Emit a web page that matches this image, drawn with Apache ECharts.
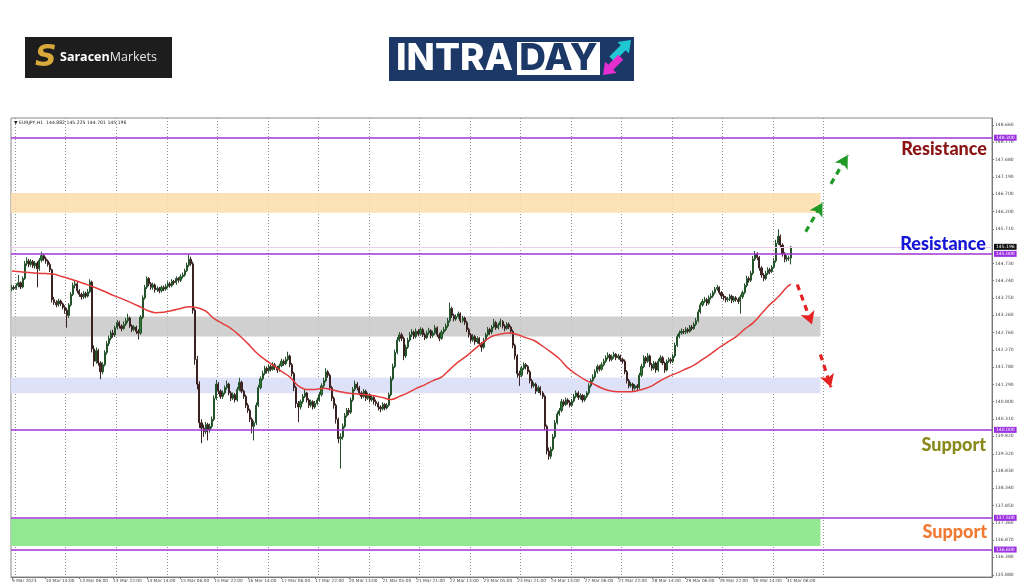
<!DOCTYPE html>
<html><head><meta charset="utf-8">
<script src="https://cdn.jsdelivr.net/npm/echarts@6/dist/echarts.min.js"></script>
<style>html,body{margin:0;padding:0;background:#fff}#c{width:1024px;height:587px}</style>
</head><body><div id="c"></div>
<script>
// ---------- DATA ----------
const xLabels = ["9 Mar 2023","10 Mar 14:00","13 Mar 06:00","13 Mar 22:00","14 Mar 14:00","15 Mar 06:00","15 Mar 22:00","16 Mar 14:00","17 Mar 06:00","17 Mar 22:00","20 Mar 13:00","21 Mar 05:00","21 Mar 21:00","22 Mar 13:00","23 Mar 05:00","23 Mar 21:00","24 Mar 13:00","27 Mar 06:00","27 Mar 22:00","28 Mar 14:00","29 Mar 06:00","29 Mar 22:00","30 Mar 14:00","31 Mar 06:00"];
const totalSlots = 466; // hourly slots on the time axis (bars + empty right margin)

const opens = [
144.00,144.05,144.02,144.10,144.18,144.06,144.30,144.72,144.80,144.70,
144.78,144.66,144.74,144.58,144.82,144.95,144.86,144.80,144.70,144.55,
143.70,143.62,143.55,143.66,143.58,143.48,143.40,143.25,143.55,143.85,
144.10,144.15,143.95,143.85,143.78,143.88,143.80,143.92,144.20,142.30,
141.95,142.25,141.90,141.65,141.85,142.20,142.45,142.60,142.75,142.70,
142.90,143.05,142.95,142.88,143.00,143.10,143.18,142.95,142.85,142.92,
142.80,142.75,143.20,143.75,144.05,144.30,144.15,144.05,144.12,143.98,
144.02,143.95,144.05,144.00,144.08,144.15,144.10,144.22,144.18,144.30,
144.25,144.35,144.40,144.52,144.68,144.85,144.72,143.40,142.00,141.30,
140.20,140.05,139.95,140.15,140.00,140.10,140.30,140.90,141.30,141.10,
140.95,141.05,141.20,141.30,141.05,140.90,141.00,140.85,141.15,141.35,
141.10,140.95,140.70,140.55,140.30,140.10,140.20,140.70,141.20,141.45,
141.60,141.75,141.68,141.80,141.72,141.85,141.78,141.70,141.82,141.95,
141.88,142.00,142.10,141.85,141.60,141.20,140.75,140.65,140.80,140.95,
141.05,140.85,140.70,140.80,140.65,140.75,140.85,141.00,141.25,141.40,
141.65,141.55,141.20,140.90,140.70,140.30,139.75,139.80,140.10,140.40,
140.55,140.50,140.85,141.15,141.30,141.20,141.05,140.95,141.10,140.90,
141.00,140.85,140.92,140.80,140.75,140.65,140.60,140.72,140.62,140.70,
141.00,141.45,141.80,142.20,142.55,142.70,142.60,142.10,142.35,142.55,
142.70,142.78,142.65,142.80,142.72,142.85,142.70,142.62,142.75,142.82,
142.68,142.75,142.90,142.70,142.60,142.78,142.85,142.95,143.10,143.45,
143.25,143.15,143.22,143.30,143.10,143.18,143.05,142.85,142.70,142.55,
142.65,142.50,142.60,142.45,142.35,142.55,142.70,142.85,142.78,142.92,
143.05,142.90,142.98,143.08,142.95,142.88,143.00,142.92,142.80,142.40,
142.10,141.60,141.55,141.75,141.85,141.80,141.65,141.40,141.25,141.30,
141.10,141.20,141.05,140.95,140.10,139.40,139.25,139.45,139.80,140.20,
140.45,140.55,140.80,140.72,140.85,140.78,140.70,140.82,140.95,141.05,
140.92,140.98,140.85,140.95,141.05,141.25,141.40,141.50,141.65,141.80,
141.72,141.85,141.95,142.05,142.12,142.00,142.08,142.15,142.05,142.10,
142.00,141.95,141.65,141.40,141.25,141.30,141.18,141.25,141.20,141.55,
141.80,142.05,141.95,142.10,141.85,141.75,141.90,141.70,141.95,142.05,
141.90,141.70,141.95,142.00,141.95,142.10,142.40,142.65,142.75,142.80,
142.78,142.85,142.80,142.92,142.88,143.00,143.10,143.35,143.55,143.65,
143.70,143.60,143.75,143.80,143.90,144.00,144.05,143.90,143.80,143.75,
143.70,143.72,143.80,143.68,143.75,143.70,143.65,143.78,143.90,144.10,
144.30,144.25,144.45,144.85,145.00,144.90,144.60,144.40,144.30,144.45,
144.55,144.50,144.62,144.80,145.30,145.50,145.25,145.00,144.85,144.88,
144.882];
const closes = [
144.05,144.02,144.10,144.18,144.06,144.30,144.72,144.80,144.70,144.78,
144.66,144.74,144.58,144.82,144.95,144.86,144.80,144.70,144.55,143.70,
143.62,143.55,143.66,143.58,143.48,143.40,143.25,143.55,143.85,144.10,
144.15,143.95,143.85,143.78,143.88,143.80,143.92,144.20,142.30,141.95,
142.25,141.90,141.65,141.85,142.20,142.45,142.60,142.75,142.70,142.90,
143.05,142.95,142.88,143.00,143.10,143.18,142.95,142.85,142.92,142.80,
142.75,143.20,143.75,144.05,144.30,144.15,144.05,144.12,143.98,144.02,
143.95,144.05,144.00,144.08,144.15,144.10,144.22,144.18,144.30,144.25,
144.35,144.40,144.52,144.68,144.85,144.72,143.40,142.00,141.30,140.20,
140.05,139.95,140.15,140.00,140.10,140.30,140.90,141.30,141.10,140.95,
141.05,141.20,141.30,141.05,140.90,141.00,140.85,141.15,141.35,141.10,
140.95,140.70,140.55,140.30,140.10,140.20,140.70,141.20,141.45,141.60,
141.75,141.68,141.80,141.72,141.85,141.78,141.70,141.82,141.95,141.88,
142.00,142.10,141.85,141.60,141.20,140.75,140.65,140.80,140.95,141.05,
140.85,140.70,140.80,140.65,140.75,140.85,141.00,141.25,141.40,141.65,
141.55,141.20,140.90,140.70,140.30,139.75,139.80,140.10,140.40,140.55,
140.50,140.85,141.15,141.30,141.20,141.05,140.95,141.10,140.90,141.00,
140.85,140.92,140.80,140.75,140.65,140.60,140.72,140.62,140.70,141.00,
141.45,141.80,142.20,142.55,142.70,142.60,142.10,142.35,142.55,142.70,
142.78,142.65,142.80,142.72,142.85,142.70,142.62,142.75,142.82,142.68,
142.75,142.90,142.70,142.60,142.78,142.85,142.95,143.10,143.45,143.25,
143.15,143.22,143.30,143.10,143.18,143.05,142.85,142.70,142.55,142.65,
142.50,142.60,142.45,142.35,142.55,142.70,142.85,142.78,142.92,143.05,
142.90,142.98,143.08,142.95,142.88,143.00,142.92,142.80,142.40,142.10,
141.60,141.55,141.75,141.85,141.80,141.65,141.40,141.25,141.30,141.10,
141.20,141.05,140.95,140.10,139.40,139.25,139.45,139.80,140.20,140.45,
140.55,140.80,140.72,140.85,140.78,140.70,140.82,140.95,141.05,140.92,
140.98,140.85,140.95,141.05,141.25,141.40,141.50,141.65,141.80,141.72,
141.85,141.95,142.05,142.12,142.00,142.08,142.15,142.05,142.10,142.00,
141.95,141.65,141.40,141.25,141.30,141.18,141.25,141.20,141.55,141.80,
142.05,141.95,142.10,141.85,141.75,141.90,141.70,141.95,142.05,141.90,
141.70,141.95,142.00,141.95,142.10,142.40,142.65,142.75,142.80,142.78,
142.85,142.80,142.92,142.88,143.00,143.10,143.35,143.55,143.65,143.70,
143.60,143.75,143.80,143.90,144.00,144.05,143.90,143.80,143.75,143.70,
143.72,143.80,143.68,143.75,143.70,143.65,143.78,143.90,144.10,144.30,
144.25,144.45,144.85,145.00,144.90,144.60,144.40,144.30,144.45,144.55,
144.50,144.62,144.80,145.30,145.50,145.25,145.00,144.85,144.88,144.882,
145.196];
const highs = [
144.12,144.10,144.16,144.40,144.22,144.36,144.80,144.90,144.86,144.85,
144.83,144.80,144.79,144.88,145.06,145.00,144.92,144.84,144.76,144.58,
143.78,143.68,143.72,143.70,143.62,143.54,143.46,143.60,143.92,144.18,
144.24,144.20,144.00,143.90,143.94,143.93,144.00,144.28,144.24,142.40,
142.34,142.30,141.95,141.92,142.26,142.52,142.68,142.82,142.84,142.96,
143.12,143.10,143.00,143.08,143.18,143.30,143.22,143.00,142.98,142.96,
142.86,143.26,143.82,144.12,144.36,144.34,144.20,144.18,144.16,144.08,
144.06,144.10,144.10,144.14,144.22,144.20,144.28,144.26,144.36,144.34,
144.42,144.47,144.58,144.75,144.98,144.92,144.78,143.45,142.10,141.38,
140.30,140.15,140.22,140.20,140.18,140.38,140.98,141.42,141.36,141.15,
141.12,141.26,141.40,141.34,141.10,141.06,141.05,141.22,141.48,141.40,
141.14,141.00,140.76,140.60,140.35,140.26,140.78,141.28,141.52,141.68,
141.82,141.80,141.86,141.85,141.92,141.90,141.82,141.88,142.02,142.00,
142.08,142.22,142.14,141.90,141.65,141.25,140.82,140.86,141.02,141.14,
141.08,140.90,140.86,140.84,140.82,140.92,141.08,141.32,141.48,141.75,
141.70,141.60,141.25,140.95,140.75,140.35,139.90,140.18,140.48,140.62,
140.62,140.92,141.22,141.40,141.36,141.25,141.10,141.16,141.14,141.06,
141.04,140.98,140.96,140.86,140.80,140.70,140.78,140.76,140.76,141.06,
141.52,141.88,142.28,142.64,142.78,142.76,142.65,142.42,142.62,142.78,
142.86,142.82,142.88,142.86,142.92,142.90,142.76,142.82,142.90,142.86,
142.82,142.98,142.94,142.76,142.84,142.92,143.02,143.18,143.62,143.50,
143.30,143.28,143.36,143.34,143.24,143.22,143.10,142.90,142.75,142.72,
142.70,142.66,142.64,142.50,142.62,142.76,142.92,142.90,142.98,143.15,
143.10,143.04,143.16,143.12,143.00,143.06,143.05,142.96,142.85,142.45,
142.15,141.68,141.82,141.92,141.90,141.84,141.70,141.45,141.36,141.34,
141.26,141.24,141.10,141.00,140.15,139.50,139.52,139.88,140.28,140.52,
140.62,140.88,140.86,140.92,140.90,140.84,140.88,141.02,141.12,141.10,
141.04,141.02,141.00,141.10,141.32,141.46,141.58,141.72,141.86,141.84,
141.92,142.02,142.12,142.20,142.16,142.14,142.22,142.18,142.16,142.14,
142.05,142.00,141.70,141.45,141.36,141.34,141.30,141.30,141.62,141.88,
142.12,142.10,142.18,142.14,141.90,141.96,141.94,142.02,142.12,142.10,
141.94,142.00,142.06,142.05,142.16,142.48,142.72,142.82,142.88,142.86,
142.92,142.90,142.98,142.98,143.06,143.18,143.42,143.62,143.72,143.78,
143.75,143.82,143.88,143.96,144.06,144.12,144.08,143.94,143.86,143.80,
143.78,143.86,143.84,143.80,143.80,143.76,143.84,143.96,144.16,144.38,
144.36,144.52,144.94,145.08,145.05,144.94,144.65,144.45,144.52,144.62,
144.60,144.68,144.88,145.40,145.70,145.55,145.30,145.05,144.96,144.95,
145.225];
const lows = [
143.94,143.97,143.98,144.05,144.00,144.02,144.26,144.66,144.62,144.64,
144.60,144.58,144.05,144.52,144.76,144.80,144.72,144.64,144.48,143.62,
143.55,143.48,143.50,143.52,143.42,143.30,142.90,143.18,143.50,143.80,
144.02,143.88,143.78,143.70,143.72,143.74,143.76,143.88,142.20,141.80,
141.88,141.82,141.44,141.58,141.80,142.14,142.38,142.54,142.62,142.64,
142.85,142.88,142.80,142.84,142.95,143.04,142.90,142.78,142.80,142.72,
142.57,142.70,143.15,143.70,144.00,144.08,143.98,143.98,143.90,143.92,
143.88,143.90,143.94,143.95,144.02,144.04,144.05,144.12,144.12,144.18,
144.20,144.30,144.35,144.48,144.62,144.66,143.30,141.85,141.15,140.05,
139.62,139.80,139.88,139.70,139.92,140.04,140.25,140.85,141.02,140.88,
140.88,141.00,141.14,140.98,140.82,140.85,140.78,140.80,141.10,141.04,
140.88,140.62,140.48,140.22,139.90,139.70,140.14,140.65,141.15,141.40,
141.55,141.60,141.62,141.66,141.68,141.70,141.62,141.65,141.78,141.82,
141.84,141.95,141.78,141.52,141.10,140.62,140.22,140.58,140.74,140.90,
140.78,140.62,140.64,140.58,140.60,140.70,140.80,140.95,141.20,141.35,
141.48,141.12,140.82,140.60,140.18,139.62,138.90,139.72,140.05,140.35,
140.42,140.45,140.80,141.10,141.12,140.98,140.88,140.90,140.82,140.85,
140.78,140.80,140.72,140.68,140.55,140.50,140.55,140.56,140.58,140.66,
140.95,141.40,141.75,142.15,142.50,142.52,141.98,142.04,142.30,142.50,
142.64,142.58,142.60,142.66,142.68,142.64,142.55,142.58,142.70,142.60,
142.62,142.70,142.64,142.52,142.56,142.72,142.80,142.90,143.05,143.18,
143.08,143.10,143.16,143.04,143.05,142.98,142.78,142.62,142.48,142.50,
142.42,142.45,142.38,142.22,142.30,142.50,142.65,142.70,142.72,142.88,
142.84,142.85,142.92,142.88,142.80,142.84,142.86,142.72,142.32,142.00,
141.48,141.25,141.50,141.70,141.72,141.58,141.32,141.18,141.20,141.02,
141.05,140.98,140.88,140.00,139.30,139.15,139.18,139.40,139.75,140.15,
140.40,140.50,140.66,140.68,140.72,140.64,140.66,140.78,140.90,140.85,
140.86,140.78,140.80,140.90,141.00,141.20,141.35,141.45,141.60,141.66,
141.68,141.80,141.90,142.00,141.94,141.95,142.02,141.98,142.00,141.94,
141.88,141.58,141.32,141.18,141.20,141.10,141.12,141.12,141.15,141.50,
141.75,141.88,141.90,141.78,141.68,141.70,141.62,141.65,141.90,141.84,
141.62,141.66,141.90,141.88,141.90,142.05,142.35,142.60,142.70,142.72,
142.72,142.74,142.76,142.82,142.84,142.95,143.05,143.30,143.50,143.60,
143.52,143.55,143.70,143.75,143.85,143.95,143.84,143.72,143.68,143.62,
143.64,143.66,143.60,143.62,143.64,143.58,143.30,143.72,143.85,144.05,
144.18,144.20,144.40,144.80,144.82,144.52,144.32,144.22,144.25,144.40,
144.42,144.45,144.58,144.75,145.25,145.18,144.92,144.76,144.78,144.80,
144.701];

// moving average read every 4th bar (bar 0,4,...,368) and at the last bar (370)
const maValues = [
144.51,144.49,144.47,144.45,144.44,144.42,144.35,144.28,144.20,144.12,
144.03,143.93,143.82,143.73,143.63,143.52,143.40,143.33,143.34,143.39,
143.45,143.50,143.47,143.37,143.16,143.02,142.88,142.68,142.45,142.20,
142.00,141.84,141.66,141.50,141.25,141.15,141.15,141.18,141.14,141.08,
141.04,141.02,141.00,140.97,140.92,140.86,140.95,141.05,141.18,141.28,
141.40,141.50,141.72,141.93,142.10,142.31,142.50,142.66,142.72,142.75,
142.71,142.62,142.54,142.38,142.21,142.02,141.76,141.58,141.43,141.31,
141.19,141.11,141.08,141.08,141.10,141.16,141.25,141.40,141.52,141.62,
141.73,141.84,142.00,142.16,142.34,142.50,142.65,142.86,143.04,143.30,
143.56,143.78,144.05];
const maLastBar = 370, maLastValue = 144.14;

const yTicks = [135.88,136.38,136.87,137.36,137.85,138.34,138.83,139.32,139.82,140.31,140.80,141.29,141.78,142.27,142.76,143.26,143.75,144.24,144.73,145.71,146.20,146.70,147.19,147.68,148.17,148.66];
const levelPrices = [148.300,145.000,140.000,137.500,136.600];
const lastPrice = 145.196;
const zoneLow  = [146.17,142.65,141.04,136.70];
const zoneHigh = [146.73,143.22,141.49,137.47];
const zoneEndBar = 384;
const arrowsUp   = [[377,145.63,385,146.45],[389,146.99,397,147.81]];
const arrowsDown = [[373,144.13,380,142.99],[384,142.14,389,141.21]];
const header = "\u25BC EURJPY,H1  144.882 145.225 144.701 145.196";

// ---------- CHART ----------
const cats = Array.from({length: totalSlots}, (_, i) => String(i));
const ohlc = closes.map((c, i) => [opens[i], c, lows[i], highs[i]]);
const maData = maValues.map((v, k) => [k * 4, v]).concat([[maLastBar, maLastValue]]);
const zoneColors = ['rgba(253,220,170,0.85)','rgba(200,200,200,0.85)','rgba(220,224,248,0.95)','rgba(140,232,140,0.95)'];
const purple = '#a234d6';
const annFont = '900 18px "Lato"';

const chart = echarts.init(document.getElementById('c'), null, {renderer: 'canvas'});
const tickShow = i => i % 16 === 0 && i / 16 < xLabels.length;

chart.setOption({
  animation: false,
  backgroundColor: '#ffffff',
  grid: {left: 11, right: 32, top: 118, bottom: 10, show: true, borderColor: '#8a8a8a', borderWidth: 1},
  xAxis: {
    type: 'category', data: cats, boundaryGap: true,
    axisLine: {lineStyle: {color: '#777'}},
    axisTick: {show: true, interval: (i) => tickShow(i), alignWithLabel: true, length: 2, lineStyle: {color: '#777'}},
    axisLabel: {interval: (i) => tickShow(i), formatter: (v, i) => xLabels[i / 16] || '', fontSize: 4.3, color: '#444',
                align: 'left', margin: 2, fontFamily: 'DejaVu Sans'},
    splitLine: {show: true, interval: (i) => i >= 2 && (i - 2) % 24 === 0 && i <= 386,
                lineStyle: {color: '#8c8c8c', type: [1, 2], width: 1}}
  },
  yAxis: {
    type: 'value', position: 'right', min: 135.82, max: 148.86,
    axisLine: {show: true, lineStyle: {color: '#777'}},
    axisTick: {show: true, length: 2, customValues: yTicks, lineStyle: {color: '#777'}},
    axisLabel: {customValues: yTicks, formatter: v => v.toFixed(3), fontSize: 4.5, color: '#444', margin: 3, fontFamily: 'DejaVu Sans'},
    splitLine: {show: false}
  },
  series: [
    {
      type: 'line', data: [], z: 1, silent: true,
      markArea: {silent: true, data: zoneLow.map((lo, k) => [
        {xAxis: 'min', yAxis: zoneHigh[k], itemStyle: {color: zoneColors[k]}},
        {xAxis: zoneEndBar, yAxis: lo}
      ])}
    },
    {
      type: 'candlestick', data: ohlc, z: 2, barWidth: 1.6,
      itemStyle: {color: '#2f7d33', color0: '#4a2626', borderColor: '#24522a', borderColor0: '#3a2222', borderWidth: 1}
    },
    {
      type: 'line', data: maData, z: 3, smooth: 0.35, showSymbol: false, silent: true,
      lineStyle: {color: '#e53b3b', width: 1.5},
      markLine: {
        silent: true, symbol: ['none', 'arrow'], symbolSize: [11, 13], label: {show: false},
        data: arrowsUp.map(a => [{coord: [a[0], a[1]], lineStyle: {color: '#1f9a26', width: 3.2, type: [6, 5]}}, {coord: [a[2], a[3]]}])
          .concat(arrowsDown.map(a => [{coord: [a[0], a[1]], lineStyle: {color: '#e52222', width: 3.2, type: [6, 5]}}, {coord: [a[2], a[3]]}]))
      }
    },
    {
      type: 'line', data: [], z: 4, silent: true,
      markLine: {
        silent: true, symbol: 'none',
        data: [{yAxis: lastPrice, lineStyle: {color: '#f0cdf0', width: 1, type: 'solid'},
                label: {position: 'end', distance: 2, formatter: lastPrice.toFixed(3), backgroundColor: '#111', color: '#fff',
                        fontSize: 4.5, padding: [0.5, 2], fontFamily: 'DejaVu Sans'}}]
          .concat(levelPrices.map(p => ({yAxis: p, lineStyle: {color: purple, width: 1.6, type: 'solid'},
                label: {position: 'end', distance: 2, formatter: p.toFixed(3), backgroundColor: '#9b30e0', color: '#fff',
                        fontSize: 4.5, padding: [0.5, 2], fontFamily: 'DejaVu Sans'}})))
      }
    }
  ],
  graphic: [
    // Saracen Markets logo
    {type: 'rect', z: 100, shape: {x: 25, y: 37, width: 147, height: 41}, style: {fill: '#1d1d1d'}},
    {type: 'text', z: 101, x: 35, y: 58, style: {text: 'S', font: 'italic bold 30px "DejaVu Sans"', fill: '#d9a83a', verticalAlign: 'middle'}},
    {type: 'text', z: 101, x: 60, y: 57.5, style: {text: '{a|Saracen}{b|Markets}', verticalAlign: 'middle', rich: {
      a: {font: 'bold 12.5px "Open Sans"', fill: '#ffffff'}, b: {font: '12.5px "Open Sans"', fill: '#e8e8e8'}}}},
    // INTRADAY logo
    {type: 'rect', z: 100, shape: {x: 389, y: 37, width: 245, height: 44}, style: {fill: '#1b3866'}},
    {type: 'text', z: 101, x: 396, y: 59, style: {text: 'INTRA', font: '800 37px "Inter"', fill: '#ffffff', verticalAlign: 'middle'}},
    {type: 'rect', z: 101, shape: {x: 517, y: 42, width: 83, height: 33}, style: {fill: '#ffffff'}},
    {type: 'text', z: 102, x: 558.5, y: 59, style: {text: 'DAY', font: '800 37px "Inter"', fill: '#1b3866', align: 'center', verticalAlign: 'middle'}},
    {type: 'polygon', z: 101, shape: {points: [[631,40],[628.9,53.5],[625.7,50.3],[614.4,61.6],[609.4,56.6],[620.7,45.3],[617.5,42.1]]}, style: {fill: '#1fc7d4'}},
    {type: 'polygon', z: 101, shape: {points: [[603,75],[616.5,72.9],[613.3,69.7],[623.2,59.8],[618.2,54.8],[608.3,64.7],[605.1,61.5]]}, style: {fill: '#e62fd0'}},
    // header
    {type: 'text', z: 100, x: 14, y: 123, style: {text: header, font: '4.6px "DejaVu Sans"', fill: '#222', verticalAlign: 'middle'}},
    // annotations
    {type: 'text', z: 100, x: 987, y: 149, style: {text: 'Resistance', font: annFont, fill: '#8b1414', align: 'right', verticalAlign: 'middle'}},
    {type: 'text', z: 100, x: 986, y: 244, style: {text: 'Resistance', font: annFont, fill: '#1616d8', align: 'right', verticalAlign: 'middle'}},
    {type: 'text', z: 100, x: 986, y: 445, style: {text: 'Support', font: annFont, fill: '#8a8a1c', align: 'right', verticalAlign: 'middle'}},
    {type: 'text', z: 100, x: 987, y: 532, style: {text: 'Support', font: annFont, fill: '#f07a32', align: 'right', verticalAlign: 'middle'}}
  ]
});
</script></body></html>
